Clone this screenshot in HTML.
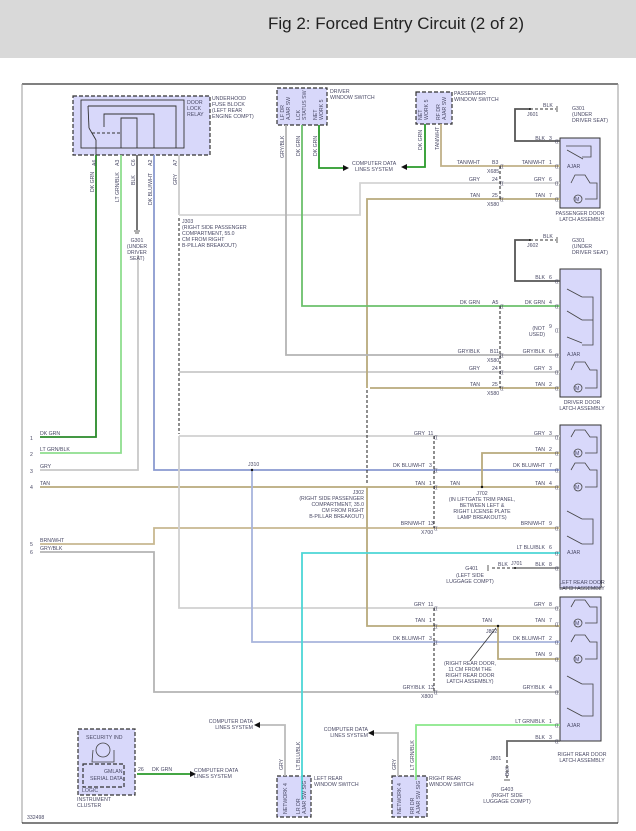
<!DOCTYPE html>
<html><head><meta charset="utf-8"><style>
html,body{margin:0;padding:0;background:#fff;width:636px;height:831px;overflow:hidden}
svg{display:block}
text{font-family:"Liberation Sans",sans-serif;fill:#4a4a66;font-size:5.2px}
.w{fill:none;stroke-width:1.8}
</style></head><body>
<svg width="636" height="831" viewBox="0 0 636 831" xmlns="http://www.w3.org/2000/svg">
<rect x="0" y="0" width="636" height="58" fill="#d9d9d9"/>
<text x="396" y="29" text-anchor="middle" style="font-size:17px;fill:#222">Fig 2: Forced Entry Circuit (2 of 2)</text>
<!-- frame -->
<line x1="22" y1="84" x2="618" y2="84" stroke="#000" stroke-width="1"/>
<line x1="22" y1="84" x2="22" y2="823" stroke="#999" stroke-width="1"/>
<line x1="618" y1="84" x2="618" y2="823" stroke="#999" stroke-width="1"/>
<line x1="22" y1="823" x2="618" y2="823" stroke="#000" stroke-width="1"/>

<!-- components -->
<g fill="#d8d8fa" stroke="#333" stroke-width="1.2" stroke-dasharray="4,2">
<rect x="73" y="96" width="137" height="59"/>
<rect x="277" y="88" width="50" height="37"/>
<rect x="416" y="92" width="36" height="32"/>
<rect x="277" y="776" width="34" height="41"/>
<rect x="392" y="776" width="35" height="41"/>
<rect x="78" y="729" width="57" height="66"/>
<rect x="83" y="764" width="41" height="23"/>
</g>
<g fill="#d8d8fa" stroke="#333" stroke-width="1">
<rect x="560" y="138" width="40" height="70"/>
<rect x="560" y="269" width="41" height="128"/>
<rect x="560" y="425" width="41" height="163"/>
<rect x="560" y="597" width="41" height="144"/>
</g>
<!-- relay internals -->
<g fill="none" stroke="#333" stroke-width="0.9">
<rect x="81" y="100" width="103" height="48"/>
<polyline points="88,106 176,106 176,148"/>
<polyline points="104,127 104,114 154,114 154,148"/>
<polyline points="121,148 121,118 137,118 137,148"/>
<line x1="88" y1="106" x2="89" y2="128"/><line x1="89" y1="128" x2="96" y2="140"/><line x1="96" y1="140" x2="96" y2="155"/>
<line x1="92" y1="133" x2="121" y2="133" stroke-dasharray="3,2"/>
</g>
<text x="187" y="104">DOOR</text><text x="187" y="110">LOCK</text><text x="187" y="116">RELAY</text>
<text x="212" y="100">UNDERHOOD</text><text x="212" y="106">FUSE BLOCK</text><text x="212" y="112">(LEFT REAR</text><text x="212" y="118">ENGINE COMPT)</text>
<text x="330" y="93">DRIVER</text><text x="330" y="99">WINDOW SWITCH</text>
<text x="454" y="95">PASSENGER</text><text x="454" y="101">WINDOW SWITCH</text>

<!-- wires -->
<polyline class="w" stroke="#2a8a2a" points="96,155 96,437 40,437"/>
<polyline class="w" stroke="#8fde8f" points="121,155 121,453 40,453"/>
<polyline class="w" stroke="#666" points="137,155 137,230"/>
<polyline class="w" stroke="#c8c8c8" points="138,255 138,470 40,470"/>
<polyline class="w" stroke="#8a9ad0" points="154,155 154,470 560,470"/>
<polyline class="w" stroke="#b8aa7c" points="40,487 560,487"/>
<polyline class="w" stroke="#c8b890" points="40,544 154,544 154,528 560,528"/>
<polyline class="w" stroke="#b4b4b4" points="40,552 154,552 154,692 560,692"/>
<polyline class="w" stroke="#ccc" points="179,155 179,215"/>
<polyline class="w" stroke="#d4d4d4" points="179,215 360,215 360,183 560,183"/>
<polyline class="w" stroke="#d0d0d0" points="179,436 560,436"/>
<polyline class="w" stroke="#d0d0d0" points="179,436 179,608 560,608"/>
<polyline class="w" stroke="#c8c8c8" points="179,372 560,372"/>
<polyline class="w" stroke="#a8b4dc" points="252,470 252,642 560,642"/>
<polyline class="w" stroke="#b8aa7c" points="560,199 367,199 367,388"/>
<polyline class="w" stroke="#b8aa7c" points="370,388 560,388"/>
<polyline class="w" stroke="#b8aa7c" points="367,487 367,626 560,626"/>
<polyline class="w" stroke="#b8aa7c" points="482,487 482,453 560,453"/>
<polyline class="w" stroke="#b8aa7c" points="498,626 498,659 560,659"/>
<polyline class="w" stroke="#b4b4b4" points="286,125 286,355 560,355"/>
<polyline class="w" stroke="#6cc06c" points="302,125 302,306 560,306"/>
<polyline class="w" stroke="#2a9a2a" points="319,125 319,168 343,168"/>
<polyline class="w" stroke="#2a9a2a" points="425,124 425,167 407,167"/>
<polyline class="w" stroke="#c0b088" points="441,124 441,166 560,166"/>
<polyline class="w" stroke="#555" points="560,141 515,141 515,109 530,109"/>
<polyline class="w" stroke="#555" points="560,281 515,281 515,240 530,240"/>
<polyline class="w" stroke="#4cd6d6" points="302,800 302,553 560,553"/>
<polyline class="w" stroke="#888" points="560,568 515,568"/>
<polyline class="w" stroke="#8ae88a" points="416,780 416,725 560,725"/>
<polyline class="w" stroke="#666" points="560,741 507,741 507,757"/>
<polyline class="w" stroke="#bbb" points="285,776 285,725 260,725"/>
<polyline class="w" stroke="#bbb" points="398,776 398,733 374,733"/>
<polyline class="w" stroke="#2a9a2a" points="137,774 190,774"/>
<!-- dashed splices -->
<g stroke="#333" stroke-width="1.1" stroke-dasharray="3,2" fill="none">
<line x1="179" y1="218" x2="179" y2="434"/>
<line x1="367" y1="390" x2="367" y2="485"/>
<line x1="500" y1="166" x2="500" y2="199"/>
<line x1="500" y1="306" x2="500" y2="388"/>
<line x1="434" y1="436" x2="434" y2="528"/>
<line x1="434" y1="608" x2="434" y2="692"/>
<line x1="530" y1="109" x2="556" y2="109"/>
<line x1="530" y1="240" x2="556" y2="240"/>
<line x1="515" y1="568" x2="490" y2="568"/>
<line x1="507" y1="760" x2="507" y2="779"/>
</g>
<!-- arrows -->
<g fill="#111">
<polygon points="343,165 349,168 343,171"/>
<polygon points="407,164 401,167 407,170"/>
<polygon points="260,722 254,725 260,728"/>
<polygon points="374,730 368,733 374,736"/>
<polygon points="190,771 196,774 190,777"/>
<circle cx="530" cy="109" r="1"/><circle cx="530" cy="240" r="1"/><circle cx="252" cy="470" r="1.2"/>
<circle cx="482" cy="487" r="1.2"/><circle cx="498" cy="626" r="1.2"/><circle cx="515" cy="568" r="1"/>
</g>
<!-- grounds -->
<g stroke="#333" stroke-width="0.8">
<line x1="134" y1="231" x2="140" y2="231"/><line x1="135" y1="233" x2="139" y2="233"/>
<line x1="557" y1="106" x2="557" y2="112"/><line x1="557" y1="237" x2="557" y2="243"/>
<line x1="488" y1="565" x2="488" y2="571"/><line x1="504" y1="780" x2="510" y2="780"/>
<line x1="470" y1="661" x2="496" y2="628"/>
</g>
<!-- latch internals -->
<g fill="none" stroke="#444" stroke-width="0.8">
<polyline points="566,146 591,146 591,157 582,157"/><line x1="567" y1="150" x2="583" y2="159"/>
<polyline points="571,183 575,175 585,175 590,183 597,183 597,199 585,199"/>
<circle cx="578" cy="199" r="4"/>
<line x1="567" y1="289" x2="582" y2="297"/><line x1="567" y1="311" x2="582" y2="320"/><line x1="567" y1="337" x2="582" y2="343"/>
<polyline points="582,297 593,297 593,345 582,345"/><line x1="582" y1="320" x2="593" y2="320"/>
<polyline points="571,370 575,362 585,362 590,370 597,370 597,388 585,388"/><circle cx="578" cy="388" r="4"/>
<polyline points="571,437 575,430 585,430 590,437 597,437 597,453 585,453"/><circle cx="578" cy="453" r="4"/>
<polyline points="571,470 575,463 585,463 590,470 597,470 597,487 585,487"/><circle cx="578" cy="487" r="4"/>
<line x1="567" y1="511" x2="582" y2="519"/><line x1="567" y1="536" x2="582" y2="544"/><polyline points="582,519 593,519 593,544 582,544"/>
<polyline points="571,607 575,600 585,600 590,607 597,607 597,623 585,623"/><circle cx="578" cy="623" r="4"/>
<polyline points="571,642 575,635 585,635 590,642 597,642 597,659 585,659"/><circle cx="578" cy="659" r="4"/>
<line x1="567" y1="676" x2="582" y2="684"/><line x1="567" y1="708" x2="582" y2="716"/><polyline points="582,684 593,684 593,716 582,716"/>
<circle cx="103" cy="750" r="7"/><polyline points="93,750 92,762 114,762 114,750"/>
</g>
<g style="font-size:6px"><text x="575" y="201">M</text><text x="575" y="390">M</text><text x="575" y="455">M</text><text x="575" y="489">M</text><text x="575" y="625">M</text><text x="575" y="661">M</text></g>
<!-- pin connector marks -->
<g style="font-size:6px;fill:#333">
<text x="555" y="168">((</text><text x="555" y="185">((</text><text x="555" y="201">((</text><text x="555" y="143">((</text>
<text x="555" y="283">((</text><text x="555" y="308">((</text><text x="555" y="332">((</text><text x="555" y="357">((</text><text x="555" y="374">((</text><text x="555" y="390">((</text>
<text x="555" y="439">((</text><text x="555" y="455">((</text><text x="555" y="472">((</text><text x="555" y="489">((</text><text x="555" y="530">((</text><text x="555" y="555">((</text><text x="555" y="570">((</text>
<text x="555" y="610">((</text><text x="555" y="626">((</text><text x="555" y="644">((</text><text x="555" y="661">((</text><text x="555" y="694">((</text><text x="555" y="727">((</text><text x="555" y="743">((</text>
<text x="500" y="168">((</text><text x="500" y="185">((</text><text x="500" y="201">((</text>
<text x="500" y="308">((</text><text x="500" y="357">((</text><text x="500" y="374">((</text><text x="500" y="390">((</text>
<text x="434" y="439">((</text><text x="434" y="472">((</text><text x="434" y="489">((</text><text x="434" y="530">((</text>
<text x="434" y="610">((</text><text x="434" y="628">((</text><text x="434" y="644">((</text><text x="434" y="694">((</text>
</g>
<!-- wire labels right -->
<text x="545" y="140" text-anchor="end">BLK</text><text x="549" y="140">3</text>
<text x="545" y="164" text-anchor="end">TAN/WHT</text><text x="549" y="164">1</text><text x="567" y="168">AJAR</text>
<text x="545" y="181" text-anchor="end">GRY</text><text x="549" y="181">6</text>
<text x="545" y="197" text-anchor="end">TAN</text><text x="549" y="197">7</text>
<text x="480" y="164" text-anchor="end">TAN/WHT</text><text x="492" y="164">B3</text><text x="487" y="173">X685</text>
<text x="480" y="181" text-anchor="end">GRY</text><text x="492" y="181">24</text>
<text x="480" y="197" text-anchor="end">TAN</text><text x="492" y="197">25</text><text x="487" y="206">X580</text>
<text x="580" y="215" text-anchor="middle">PASSENGER DOOR</text><text x="582" y="221" text-anchor="middle">LATCH ASSEMBLY</text>
<text x="543" y="107">BLK</text><text x="527" y="116">J601</text><text x="572" y="110">G301</text><text x="572" y="116">(UNDER</text><text x="572" y="122">DRIVER SEAT)</text>
<text x="543" y="238">BLK</text><text x="527" y="247">J602</text><text x="572" y="242">G301</text><text x="572" y="248">(UNDER</text><text x="572" y="254">DRIVER SEAT)</text>
<text x="545" y="279" text-anchor="end">BLK</text><text x="549" y="279">6</text>
<text x="545" y="304" text-anchor="end">DK GRN</text><text x="549" y="304">4</text>
<text x="545" y="330" text-anchor="end">(NOT</text><text x="545" y="336" text-anchor="end">USED)</text><text x="549" y="328">9</text>
<text x="545" y="353" text-anchor="end">GRY/BLK</text><text x="549" y="353">6</text><text x="567" y="356">AJAR</text>
<text x="545" y="370" text-anchor="end">GRY</text><text x="549" y="370">3</text>
<text x="545" y="386" text-anchor="end">TAN</text><text x="549" y="386">2</text>
<text x="480" y="304" text-anchor="end">DK GRN</text><text x="492" y="304">A5</text>
<text x="480" y="353" text-anchor="end">GRY/BLK</text><text x="490" y="353">B11</text><text x="487" y="362">X580</text>
<text x="480" y="370" text-anchor="end">GRY</text><text x="492" y="370">24</text>
<text x="480" y="386" text-anchor="end">TAN</text><text x="492" y="386">25</text><text x="487" y="395">X580</text>
<text x="582" y="404" text-anchor="middle">DRIVER DOOR</text><text x="582" y="410" text-anchor="middle">LATCH ASSEMBLY</text>
<text x="545" y="435" text-anchor="end">GRY</text><text x="549" y="435">3</text>
<text x="545" y="451" text-anchor="end">TAN</text><text x="549" y="451">2</text>
<text x="545" y="467" text-anchor="end">DK BLU/WHT</text><text x="549" y="467">7</text>
<text x="545" y="485" text-anchor="end">TAN</text><text x="549" y="485">4</text>
<text x="545" y="525" text-anchor="end">BRN/WHT</text><text x="549" y="525">9</text>
<text x="545" y="549" text-anchor="end">LT BLU/BLK</text><text x="549" y="549">6</text><text x="567" y="554">AJAR</text>
<text x="545" y="566" text-anchor="end">BLK</text><text x="549" y="566">8</text>
<text x="425" y="435" text-anchor="end">GRY</text><text x="428" y="435">11</text>
<text x="425" y="467" text-anchor="end">DK BLU/WHT</text><text x="429" y="467">3</text>
<text x="425" y="485" text-anchor="end">TAN</text><text x="429" y="485">1</text><text x="450" y="485">TAN</text>
<text x="425" y="525" text-anchor="end">BRN/WHT</text><text x="428" y="525">13</text><text x="421" y="534">X700</text>
<text x="482" y="495" text-anchor="middle">J702</text><text x="482" y="501" text-anchor="middle">(IN LIFTGATE TRIM PANEL,</text><text x="482" y="507" text-anchor="middle">BETWEEN LEFT &amp;</text><text x="482" y="513" text-anchor="middle">RIGHT LICENSE PLATE</text><text x="482" y="519" text-anchor="middle">LAMP BREAKOUTS)</text>
<text x="498" y="566">BLK</text><text x="511" y="565">J701</text><text x="478" y="570" text-anchor="end">G401</text><text x="470" y="577" text-anchor="middle">(LEFT SIDE</text><text x="470" y="583" text-anchor="middle">LUGGAGE COMPT)</text>
<text x="582" y="584" text-anchor="middle">LEFT REAR DOOR</text><text x="582" y="590" text-anchor="middle">LATCH ASSEMBLY</text>
<text x="545" y="606" text-anchor="end">GRY</text><text x="549" y="606">8</text>
<text x="545" y="622" text-anchor="end">TAN</text><text x="549" y="622">7</text>
<text x="545" y="640" text-anchor="end">DK BLU/WHT</text><text x="549" y="640">2</text>
<text x="545" y="656" text-anchor="end">TAN</text><text x="549" y="656">9</text>
<text x="545" y="689" text-anchor="end">GRY/BLK</text><text x="549" y="689">4</text>
<text x="545" y="723" text-anchor="end">LT GRN/BLK</text><text x="549" y="723">1</text><text x="567" y="727">AJAR</text>
<text x="545" y="739" text-anchor="end">BLK</text><text x="549" y="739">3</text>
<text x="425" y="606" text-anchor="end">GRY</text><text x="428" y="606">11</text>
<text x="425" y="622" text-anchor="end">TAN</text><text x="429" y="622">1</text><text x="482" y="622">TAN</text><text x="486" y="633">J802</text>
<text x="425" y="640" text-anchor="end">DK BLU/WHT</text><text x="429" y="640">3</text>
<text x="425" y="689" text-anchor="end">GRY/BLK</text><text x="428" y="689">13</text><text x="421" y="698">X800</text>
<text x="470" y="665" text-anchor="middle">(RIGHT REAR DOOR,</text><text x="470" y="671" text-anchor="middle">11 CM FROM THE</text><text x="470" y="677" text-anchor="middle">RIGHT REAR DOOR</text><text x="470" y="683" text-anchor="middle">LATCH ASSEMBLY)</text>
<text x="582" y="756" text-anchor="middle">RIGHT REAR DOOR</text><text x="582" y="762" text-anchor="middle">LATCH ASSEMBLY</text>
<text x="490" y="760">J801</text><text x="507" y="791" text-anchor="middle">G403</text><text x="507" y="797" text-anchor="middle">(RIGHT SIDE</text><text x="507" y="803" text-anchor="middle">LUGGAGE COMPT)</text>
<!-- left labels -->
<text x="30" y="440">1</text><text x="40" y="435">DK GRN</text>
<text x="30" y="456">2</text><text x="40" y="451">LT GRN/BLK</text>
<text x="30" y="473">3</text><text x="40" y="468">GRY</text>
<text x="30" y="489">4</text><text x="40" y="485">TAN</text>
<text x="30" y="546">5</text><text x="40" y="542">BRN/WHT</text>
<text x="30" y="554">6</text><text x="40" y="550">GRY/BLK</text>
<text x="248" y="466">J310</text>
<text x="182" y="223">J303</text><text x="182" y="229">(RIGHT SIDE PASSENGER</text><text x="182" y="235">COMPARTMENT, 55.0</text><text x="182" y="241">CM FROM RIGHT</text><text x="182" y="247">B-PILLAR BREAKOUT)</text>
<text x="364" y="494" text-anchor="end">J302</text><text x="364" y="500" text-anchor="end">(RIGHT SIDE PASSENGER</text><text x="364" y="506" text-anchor="end">COMPARTMENT, 35.0</text><text x="364" y="512" text-anchor="end">CM FROM RIGHT</text><text x="364" y="518" text-anchor="end">B-PILLAR BREAKOUT)</text>
<text x="137" y="242" text-anchor="middle">G301</text><text x="137" y="248" text-anchor="middle">(UNDER</text><text x="137" y="254" text-anchor="middle">DRIVER</text><text x="137" y="260" text-anchor="middle">SEAT)</text>
<text x="352" y="165">COMPUTER DATA</text><text x="355" y="171">LINES SYSTEM</text>
<text x="253" y="723" text-anchor="end">COMPUTER DATA</text><text x="253" y="729" text-anchor="end">LINES SYSTEM</text>
<text x="368" y="731" text-anchor="end">COMPUTER DATA</text><text x="368" y="737" text-anchor="end">LINES SYSTEM</text>
<text x="194" y="772">COMPUTER DATA</text><text x="194" y="778">LINES SYSTEM</text>
<text x="152" y="771">DK GRN</text><text x="138" y="771">26</text>
<text x="86" y="739">SECURITY IND</text><text x="104" y="773">GMLAN</text><text x="90" y="780">SERIAL DATA</text><text x="82" y="792">LOGIC</text>
<text x="77" y="801">INSTRUMENT</text><text x="77" y="807">CLUSTER</text>
<text x="314" y="780">LEFT REAR</text><text x="314" y="786">WINDOW SWITCH</text>
<text x="429" y="780">RIGHT REAR</text><text x="429" y="786">WINDOW SWITCH</text>
<text x="27" y="819">332498</text>
<!-- vertical labels -->
<g style="font-size:5px">
<text transform="translate(94,192) rotate(-90)">DK GRN</text>
<text transform="translate(119,202) rotate(-90)">LT GRN/BLK</text>
<text transform="translate(135,185) rotate(-90)">BLK</text>
<text transform="translate(152,205) rotate(-90)">DK BLU/WHT</text>
<text transform="translate(177,185) rotate(-90)">GRY</text>
<text transform="translate(96,166) rotate(-90)">A6</text><text transform="translate(119,166) rotate(-90)">A3</text><text transform="translate(135,166) rotate(-90)">C6</text><text transform="translate(152,166) rotate(-90)">A2</text><text transform="translate(177,166) rotate(-90)">A7</text>
<text transform="translate(284,158) rotate(-90)">GRY/BLK</text>
<text transform="translate(300,156) rotate(-90)">DK GRN</text>
<text transform="translate(317,156) rotate(-90)">DK GRN</text>
<text transform="translate(422,150) rotate(-90)">DK GRN</text>
<text transform="translate(439,150) rotate(-90)">TAN/WHT</text>
<text transform="translate(284,120) rotate(-90)">LF DR</text><text transform="translate(290,120) rotate(-90)">AJAR SW</text>
<text transform="translate(300,120) rotate(-90)">LCK</text><text transform="translate(306,120) rotate(-90)">STATUS SW</text>
<text transform="translate(317,120) rotate(-90)">NET</text><text transform="translate(323,120) rotate(-90)">WORK 5</text>
<text transform="translate(422,120) rotate(-90)">NET</text><text transform="translate(428,120) rotate(-90)">WORK 5</text>
<text transform="translate(440,120) rotate(-90)">RF DR</text><text transform="translate(446,120) rotate(-90)">AJAR SW</text>
<text transform="translate(283,770) rotate(-90)">GRY</text>
<text transform="translate(300,770) rotate(-90)">LT BLU/BLK</text>
<text transform="translate(396,770) rotate(-90)">GRY</text>
<text transform="translate(414,770) rotate(-90)">LT GRN/BLK</text>
<text transform="translate(287,814) rotate(-90)">NETWORK 4</text>
<text transform="translate(300,814) rotate(-90)">LR DR</text><text transform="translate(306,814) rotate(-90)">AJAR SW SIG</text>
<text transform="translate(401,814) rotate(-90)">NETWORK 4</text>
<text transform="translate(414,814) rotate(-90)">RR DR</text><text transform="translate(420,814) rotate(-90)">AJAR SW SIG</text>
<text transform="translate(509,776) rotate(-90)">BLK</text>
</g>
</svg>
</body></html>
